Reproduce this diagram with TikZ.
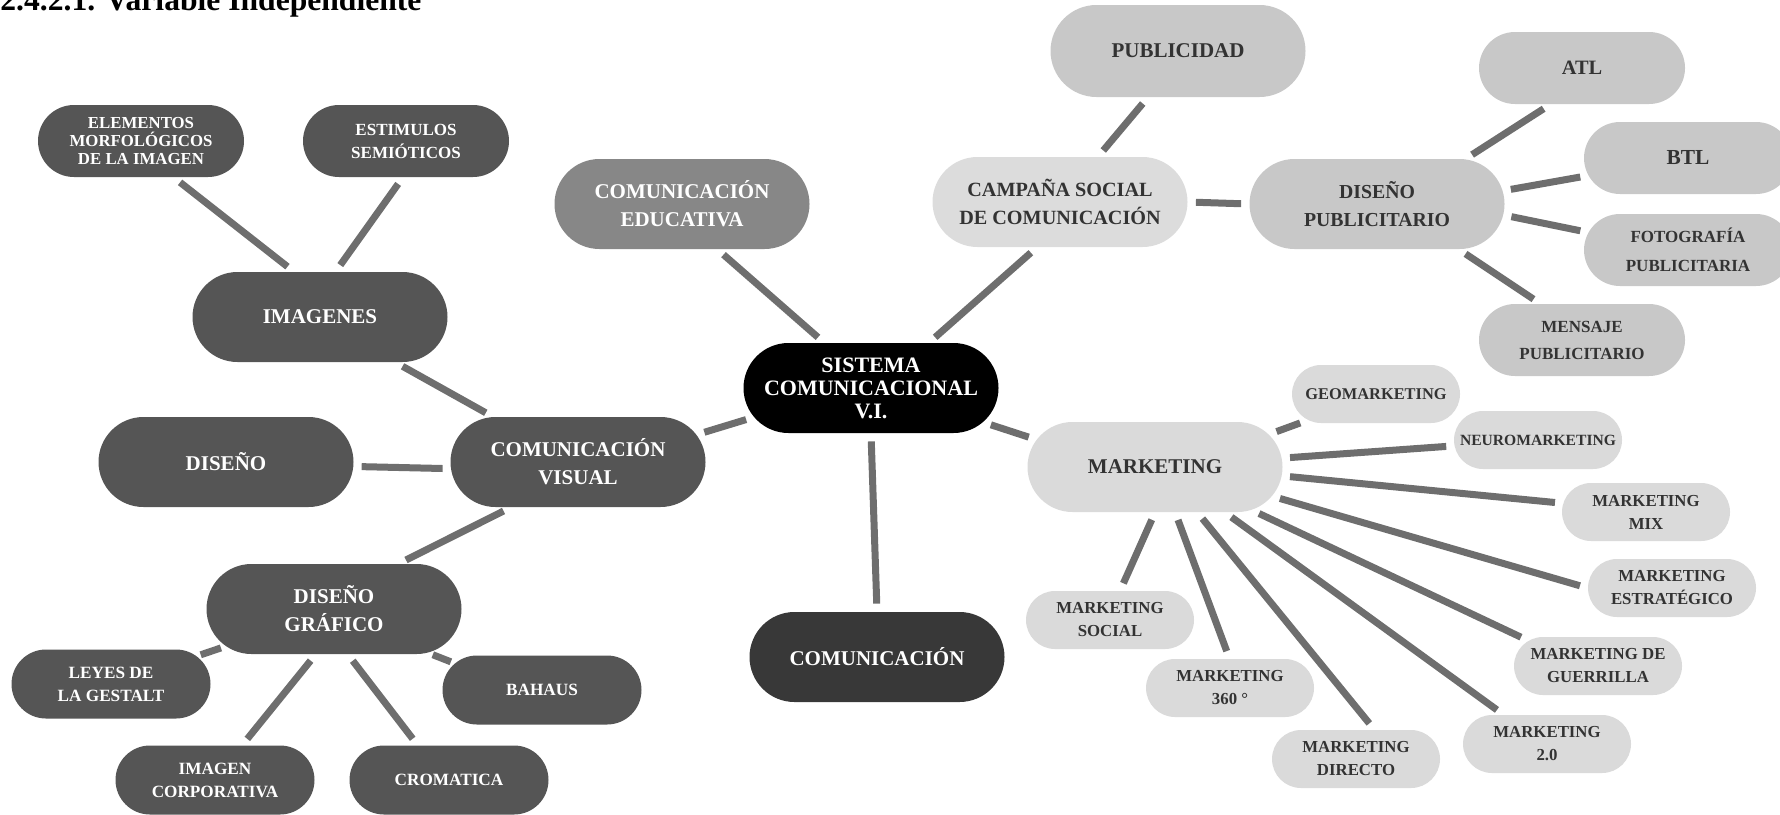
\documentclass[tikz,border=0pt]{standalone}
\usepackage{fontspec}
\setmainfont{Liberation Serif}
\usetikzlibrary{shapes.misc}
\definecolor{cdark}{HTML}{555555}
\definecolor{cmid}{HTML}{878787}
\definecolor{ccom}{HTML}{383838}
\definecolor{ccamp}{HTML}{DCDCDC}
\definecolor{cpub}{HTML}{C8C8C8}
\definecolor{cmkt}{HTML}{DADADA}
\definecolor{ctxt}{HTML}{333333}
\definecolor{cline}{HTML}{6E6E6E}
\begin{document}
\begin{tikzpicture}[x=0.5pt,y=-0.5pt,
  pill/.style={rounded rectangle, inner sep=0pt, align=center},
  big/.style={pill, minimum width=127.5pt, minimum height=45pt, font=\bfseries\fontsize{10.5}{14}\selectfont},
  med/.style={pill, minimum width=103pt, minimum height=36pt, font=\bfseries\fontsize{8.5}{11.5}\selectfont},
  medb/.style={pill, minimum width=99.5pt, minimum height=34.5pt, font=\bfseries\fontsize{8.6}{11.5}\selectfont},
  small/.style={pill, minimum width=84pt, minimum height=29pt, font=\bfseries\fontsize{8.4}{11.5}\selectfont, fill=cmkt, text=ctxt},
  darkn/.style={fill=cdark, text=white},
  pubn/.style={fill=cpub, text=ctxt},
  conn/.style={draw=cline, line width=3.5pt, shorten <=4pt, shorten >=4pt},
  connshort/.style={conn, shorten <=2.5pt, shorten >=2pt}
]
\useasboundingbox (0,0) rectangle (1780,814);

\node[anchor=base west, inner sep=0pt, font=\bfseries\fontsize{15.8}{18}\selectfont] (title) at (0,10) {2.4.2.1. Variable Independiente};

% left cluster
\node[med, darkn, font=\bfseries\fontsize{8.4}{9}\selectfont] (elem) at (141,141) {ELEMENTOS\\MORFOLÓGICOS\\DE LA IMAGEN};
\node[med, darkn] (est) at (406,141) {ESTIMULOS\\SEMIÓTICOS};
\node[big, darkn] (img) at (320,317) {IMAGENES};
\node[big, darkn] (dis) at (226,462) {DISEÑO};
\node[big, darkn] (cv) at (578,462) {COMUNICACIÓN\\VISUAL};
\node[big, darkn] (dg) at (334,609) {DISEÑO\\GRÁFICO};
\node[medb, darkn] (leyes) at (111,684) {LEYES DE\\LA GESTALT};
\node[medb, darkn] (bah) at (542,690) {BAHAUS};
\node[medb, darkn] (ic) at (215,780) {IMAGEN\\CORPORATIVA};
\node[medb, darkn] (crom) at (449,780) {CROMATICA};

% centre
\node[big, fill=cmid, text=white] (ce) at (682,204) {COMUNICACIÓN\\EDUCATIVA};
\node[big, fill=black, text=white, font=\bfseries\fontsize{11}{11.5}\selectfont] (sis) at (871,388) {SISTEMA\\COMUNICACIONAL\\V.I.};
\node[big, fill=ccom, text=white] (com) at (877,657) {COMUNICACIÓN};

% advertising branch
\node[big, fill=ccamp, text=ctxt, font=\bfseries\fontsize{10.1}{14}\selectfont] (camp) at (1060,202) {CAMPAÑA SOCIAL\\DE COMUNICACIÓN};
\node[big, pubn, minimum height=46pt] (pub) at (1178,51) {PUBLICIDAD};
\node[big, pubn, font=\bfseries\fontsize{9.9}{14}\selectfont] (dp) at (1377,204) {DISEÑO\\PUBLICITARIO};
\node[med, pubn, font=\bfseries\fontsize{10.2}{12}\selectfont] (atl) at (1582,68) {ATL};
\node[med, pubn, minimum width=104pt, font=\bfseries\fontsize{10.7}{12}\selectfont] (btl) at (1688,158) {BTL};
\node[med, pubn, minimum width=104pt, font=\bfseries\fontsize{8.5}{14.5}\selectfont] (foto) at (1688,250) {FOTOGRAFÍA\\PUBLICITARIA};
\node[med, pubn, font=\bfseries\fontsize{8.5}{13.5}\selectfont] (mens) at (1582,340) {MENSAJE\\PUBLICITARIO};

% marketing branch
\node[big, fill=cmkt, text=ctxt] (mkt) at (1155,467) {MARKETING};
\node[small, font=\bfseries\fontsize{8.2}{11.5}\selectfont] (geo) at (1376,394) {GEOMARKETING};
\node[small, font=\bfseries\fontsize{7.8}{11.5}\selectfont] (neuro) at (1538,440) {NEUROMARKETING};
\node[small] (mix) at (1646,512) {MARKETING\\MIX};
\node[small] (estr) at (1672,588) {MARKETING\\ESTRATÉGICO};
\node[small] (guer) at (1598,666) {MARKETING DE\\GUERRILLA};
\node[small] (m20) at (1547,744) {MARKETING\\2.0};
\node[small] (dir) at (1356,759) {MARKETING\\DIRECTO};
\node[small] (m360) at (1230,688) {MARKETING\\360 °};
\node[small] (soc) at (1110,620) {MARKETING\\SOCIAL};

% connectors
\draw[conn] (elem.-48.4) -- (img.120.8);
\draw[conn] (est.-95.2) -- (img.71.9);
\draw[conn] (img.-31.9) -- (cv.152.9);
\draw[conn] (dis.-2.6) -- (cv.183.4);
\draw[conn] (cv.-146.8) -- (dg.35.2);
\draw[connshort] (dg.-161.4) -- (leyes.18.2);
\draw[connshort] (dg.-25.9) -- (bah.163.8);
\draw[conn] (dg.-112.5) -- (ic.52.7);
\draw[conn] (dg.-73.2) -- (crom.132.9);
\draw[conn] (ce.-52.3) -- (sis.136.6);
\draw[conn] (camp.-117) -- (sis.38.3);
\draw[conn] (pub.-123.4) -- (camp.50.2);
\draw[conn] (camp.east) -- (dp.west);
\draw[conn] (dp.27.5) -- (atl.-131.6);
\draw[conn] (dp.6.5) -- (btl.-170.9);
\draw[conn] (dp.-5.6) -- (foto.170.4);
\draw[conn] (dp.-29.5) -- (mens.139.3);
\draw[conn] (cv.13.4) -- (sis.-166.1);
\draw[conn] (sis.-17.5) -- (mkt.167.2);
\draw[conn] (sis.south) -- (com.north);
\draw[conn] (mkt.16.1) -- (geo.-159.5);
\draw[conn] (mkt.4.3) -- (neuro.-176.7);
\draw[conn] (mkt.-4.7) -- (mix.174.9);
\draw[conn] (mkt.-14.4) -- (estr.west);
\draw[conn] (mkt.-24.5) -- (guer.160.7);
\draw[conn] (mkt.-33.9) -- (m20.146.8);
\draw[conn] (mkt.-47.8) -- (dir.58.6);
\draw[conn] (mkt.-66.5) -- (m360.91.5);
\draw[conn] (mkt.-90) -- (soc.71.6);
\end{tikzpicture}
\end{document}
